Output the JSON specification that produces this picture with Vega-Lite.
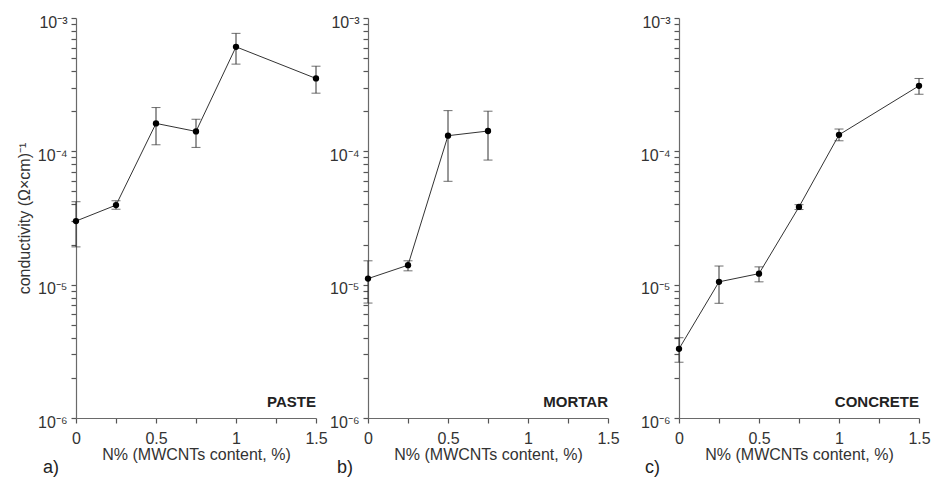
{
  "$schema": "https://vega.github.io/schema/vega-lite/v6.json",
  "padding": {"left": 16, "top": 14, "right": 5, "bottom": 0},
  "background": "white",
  "config": {
    "font": "Liberation Sans",
    "view": {"stroke": null},
    "axis": {"domainColor": "#6a6a6a", "tickColor": "#555", "labelColor": "#333", "titleColor": "#333", "labelFont": "Liberation Sans", "titleFont": "Liberation Sans", "labelFontSize": 16, "titleFontSize": 16, "titleFontWeight": "normal", "grid": false, "domainWidth": 1.2, "tickWidth": 1.2},
    "title": {"font": "Liberation Sans", "fontSize": 18, "fontWeight": "normal", "color": "#222"},
    "concat": {"spacing": 1}
  },
  "datasets": {
    "d": [
      {"panel": "PASTE", "n": 0, "s": 3.0e-5, "lo": 1.92e-5, "hi": 4.19e-5},
      {"panel": "PASTE", "n": 0.25, "s": 3.95e-5, "lo": 3.68e-5, "hi": 4.26e-5},
      {"panel": "PASTE", "n": 0.5, "s": 1.62e-4, "lo": 1.12e-4, "hi": 2.13e-4},
      {"panel": "PASTE", "n": 0.75, "s": 1.41e-4, "lo": 1.07e-4, "hi": 1.74e-4},
      {"panel": "PASTE", "n": 1.0, "s": 6.08e-4, "lo": 4.51e-4, "hi": 7.67e-4},
      {"panel": "PASTE", "n": 1.5, "s": 3.52e-4, "lo": 2.73e-4, "hi": 4.35e-4},
      {"panel": "MORTAR", "n": 0, "s": 1.11e-5, "lo": 7.28e-6, "hi": 1.51e-5},
      {"panel": "MORTAR", "n": 0.25, "s": 1.40e-5, "lo": 1.27e-5, "hi": 1.51e-5},
      {"panel": "MORTAR", "n": 0.5, "s": 1.31e-4, "lo": 5.96e-5, "hi": 2.02e-4},
      {"panel": "MORTAR", "n": 0.75, "s": 1.42e-4, "lo": 8.6e-5, "hi": 2.0e-4},
      {"panel": "CONCRETE", "n": 0, "s": 3.3e-6, "lo": 2.62e-6, "hi": 4.0e-6},
      {"panel": "CONCRETE", "n": 0.25, "s": 1.05e-5, "lo": 7.25e-6, "hi": 1.38e-5},
      {"panel": "CONCRETE", "n": 0.5, "s": 1.21e-5, "lo": 1.05e-5, "hi": 1.36e-5},
      {"panel": "CONCRETE", "n": 0.75, "s": 3.83e-5, "lo": 3.66e-5, "hi": 3.98e-5},
      {"panel": "CONCRETE", "n": 1.0, "s": 1.33e-4, "lo": 1.20e-4, "hi": 1.47e-4},
      {"panel": "CONCRETE", "n": 1.5, "s": 3.10e-4, "lo": 2.68e-4, "hi": 3.52e-4}
    ]
  },
  "hconcat": [
    {
      "width": 240, "height": 400,
      "title": {"text": "a)", "orient": "bottom", "anchor": "start", "frame": "group", "dx": -33, "offset": -3},
      "data": {"name": "d"},
      "transform": [{"filter": "datum.panel == 'PASTE'"}],
      "resolve": {"axis": {"x": "independent", "y": "independent"}},
      "layer": [
        {"mark": {"type": "rule", "color": "#333", "strokeWidth": 1},
         "encoding": {
           "x": {"field": "n", "type": "quantitative", "scale": {"domain": [0, 1.5], "nice": false, "zero": false}, "axis": null},
           "y": {"field": "lo", "type": "quantitative", "scale": {"type": "log", "domain": [1e-6, 1e-3], "nice": false}, "axis": null},
           "y2": {"field": "hi"}}},
        {"mark": {"type": "tick", "orient": "horizontal", "size": 9, "thickness": 1, "color": "#333"},
         "encoding": {"x": {"field": "n", "type": "quantitative", "axis": null}, "y": {"field": "lo", "type": "quantitative", "axis": null}}},
        {"mark": {"type": "tick", "orient": "horizontal", "size": 9, "thickness": 1, "color": "#333"},
         "encoding": {"x": {"field": "n", "type": "quantitative", "axis": null}, "y": {"field": "hi", "type": "quantitative", "axis": null}}},
        {"mark": {"type": "line", "color": "#333", "strokeWidth": 1},
         "encoding": {"x": {"field": "n", "type": "quantitative", "axis": null}, "y": {"field": "s", "type": "quantitative", "axis": null}}},
        {"mark": {"type": "circle", "size": 40, "color": "#000", "opacity": 1},
         "encoding": {
           "x": {"field": "n", "type": "quantitative", "axis": {"orient": "bottom", "values": [0, 0.25, 0.5, 0.75, 1, 1.25, 1.5], "labelExpr": "indexof(['0','0.5','1','1.5'], '' + datum.value) >= 0 ? '' + datum.value : ''", "tickSize": 5, "labelFlush": false, "labelPadding": 7, "title": "N% (MWCNTs content, %)", "titlePadding": 0}},
           "y": {"field": "s", "type": "quantitative", "axis": {"orient": "left", "values": [1e-6, 2e-6, 3e-6, 4e-6, 5e-6, 6e-6, 7e-6, 8e-6, 9e-6, 1e-5, 2e-5, 3e-5, 4e-5, 5e-5, 6e-5, 7e-5, 8e-5, 9e-5, 1e-4, 2e-4, 3e-4, 4e-4, 5e-4, 6e-4, 7e-4, 8e-4, 9e-4, 1e-3], "labelExpr": "datum.value == 1e-3 ? '10⁻³' : datum.value == 1e-4 ? '10⁻⁴' : datum.value == 1e-5 ? '10⁻⁵' : datum.value == 1e-6 ? '10⁻⁶' : ''", "tickSize": 5, "labelPadding": 4, "labelOffset": 4, "title": "conductivity (Ω×cm)⁻¹", "titlePadding": 5}}}},
        {"data": {"values": [{"panel": "PASTE", "label": "PASTE", "n": 1.5, "s": 1.2e-6}]},
         "mark": {"type": "text", "align": "right", "baseline": "alphabetic", "fontWeight": "bold", "fontSize": 15, "color": "#222"},
         "encoding": {"x": {"field": "n", "type": "quantitative", "axis": null}, "y": {"field": "s", "type": "quantitative", "axis": null}, "text": {"field": "label"}}}
      ]
    },
    {
      "width": 240, "height": 400,
      "title": {"text": "b)", "orient": "bottom", "anchor": "start", "frame": "group", "dx": -31, "offset": -3},
      "data": {"name": "d"},
      "transform": [{"filter": "datum.panel == 'MORTAR'"}],
      "resolve": {"axis": {"x": "independent", "y": "independent"}},
      "layer": [
        {"mark": {"type": "rule", "color": "#333", "strokeWidth": 1},
         "encoding": {
           "x": {"field": "n", "type": "quantitative", "scale": {"domain": [0, 1.5], "nice": false, "zero": false}, "axis": null},
           "y": {"field": "lo", "type": "quantitative", "scale": {"type": "log", "domain": [1e-6, 1e-3], "nice": false}, "axis": null},
           "y2": {"field": "hi"}}},
        {"mark": {"type": "tick", "orient": "horizontal", "size": 9, "thickness": 1, "color": "#333"},
         "encoding": {"x": {"field": "n", "type": "quantitative", "axis": null}, "y": {"field": "lo", "type": "quantitative", "axis": null}}},
        {"mark": {"type": "tick", "orient": "horizontal", "size": 9, "thickness": 1, "color": "#333"},
         "encoding": {"x": {"field": "n", "type": "quantitative", "axis": null}, "y": {"field": "hi", "type": "quantitative", "axis": null}}},
        {"mark": {"type": "line", "color": "#333", "strokeWidth": 1},
         "encoding": {"x": {"field": "n", "type": "quantitative", "axis": null}, "y": {"field": "s", "type": "quantitative", "axis": null}}},
        {"mark": {"type": "circle", "size": 40, "color": "#000", "opacity": 1},
         "encoding": {
           "x": {"field": "n", "type": "quantitative", "axis": {"orient": "bottom", "values": [0, 0.25, 0.5, 0.75, 1, 1.25, 1.5], "labelExpr": "indexof(['0','0.5','1','1.5'], '' + datum.value) >= 0 ? '' + datum.value : ''", "tickSize": 5, "labelFlush": false, "labelPadding": 7, "title": "N% (MWCNTs content, %)", "titlePadding": 0}},
           "y": {"field": "s", "type": "quantitative", "axis": {"orient": "left", "values": [1e-6, 2e-6, 3e-6, 4e-6, 5e-6, 6e-6, 7e-6, 8e-6, 9e-6, 1e-5, 2e-5, 3e-5, 4e-5, 5e-5, 6e-5, 7e-5, 8e-5, 9e-5, 1e-4, 2e-4, 3e-4, 4e-4, 5e-4, 6e-4, 7e-4, 8e-4, 9e-4, 1e-3], "labelExpr": "datum.value == 1e-3 ? '10⁻³' : datum.value == 1e-4 ? '10⁻⁴' : datum.value == 1e-5 ? '10⁻⁵' : datum.value == 1e-6 ? '10⁻⁶' : ''", "tickSize": 5, "labelPadding": 4, "labelOffset": 4, "title": null}}}},
        {"data": {"values": [{"panel": "MORTAR", "label": "MORTAR", "n": 1.5, "s": 1.2e-6}]},
         "mark": {"type": "text", "align": "right", "baseline": "alphabetic", "fontWeight": "bold", "fontSize": 15, "color": "#222"},
         "encoding": {"x": {"field": "n", "type": "quantitative", "axis": null}, "y": {"field": "s", "type": "quantitative", "axis": null}, "text": {"field": "label"}}}
      ]
    },
    {
      "width": 240, "height": 400,
      "title": {"text": "c)", "orient": "bottom", "anchor": "start", "frame": "group", "dx": -34, "offset": -3},
      "data": {"name": "d"},
      "transform": [{"filter": "datum.panel == 'CONCRETE'"}],
      "resolve": {"axis": {"x": "independent", "y": "independent"}},
      "layer": [
        {"mark": {"type": "rule", "color": "#333", "strokeWidth": 1},
         "encoding": {
           "x": {"field": "n", "type": "quantitative", "scale": {"domain": [0, 1.5], "nice": false, "zero": false}, "axis": null},
           "y": {"field": "lo", "type": "quantitative", "scale": {"type": "log", "domain": [1e-6, 1e-3], "nice": false}, "axis": null},
           "y2": {"field": "hi"}}},
        {"mark": {"type": "tick", "orient": "horizontal", "size": 9, "thickness": 1, "color": "#333"},
         "encoding": {"x": {"field": "n", "type": "quantitative", "axis": null}, "y": {"field": "lo", "type": "quantitative", "axis": null}}},
        {"mark": {"type": "tick", "orient": "horizontal", "size": 9, "thickness": 1, "color": "#333"},
         "encoding": {"x": {"field": "n", "type": "quantitative", "axis": null}, "y": {"field": "hi", "type": "quantitative", "axis": null}}},
        {"mark": {"type": "line", "color": "#333", "strokeWidth": 1},
         "encoding": {"x": {"field": "n", "type": "quantitative", "axis": null}, "y": {"field": "s", "type": "quantitative", "axis": null}}},
        {"mark": {"type": "circle", "size": 40, "color": "#000", "opacity": 1},
         "encoding": {
           "x": {"field": "n", "type": "quantitative", "axis": {"orient": "bottom", "values": [0, 0.25, 0.5, 0.75, 1, 1.25, 1.5], "labelExpr": "indexof(['0','0.5','1','1.5'], '' + datum.value) >= 0 ? '' + datum.value : ''", "tickSize": 5, "labelFlush": false, "labelPadding": 7, "title": "N% (MWCNTs content, %)", "titlePadding": 0}},
           "y": {"field": "s", "type": "quantitative", "axis": {"orient": "left", "values": [1e-6, 2e-6, 3e-6, 4e-6, 5e-6, 6e-6, 7e-6, 8e-6, 9e-6, 1e-5, 2e-5, 3e-5, 4e-5, 5e-5, 6e-5, 7e-5, 8e-5, 9e-5, 1e-4, 2e-4, 3e-4, 4e-4, 5e-4, 6e-4, 7e-4, 8e-4, 9e-4, 1e-3], "labelExpr": "datum.value == 1e-3 ? '10⁻³' : datum.value == 1e-4 ? '10⁻⁴' : datum.value == 1e-5 ? '10⁻⁵' : datum.value == 1e-6 ? '10⁻⁶' : ''", "tickSize": 5, "labelPadding": 4, "labelOffset": 4, "title": " ", "titleFontSize": 10, "titlePadding": 9, "titleOpacity": 0}}}},
        {"data": {"values": [{"panel": "CONCRETE", "label": "CONCRETE", "n": 1.5, "s": 1.2e-6}]},
         "mark": {"type": "text", "align": "right", "baseline": "alphabetic", "fontWeight": "bold", "fontSize": 15, "color": "#222"},
         "encoding": {"x": {"field": "n", "type": "quantitative", "axis": null}, "y": {"field": "s", "type": "quantitative", "axis": null}, "text": {"field": "label"}}}
      ]
    }
  ]
}
